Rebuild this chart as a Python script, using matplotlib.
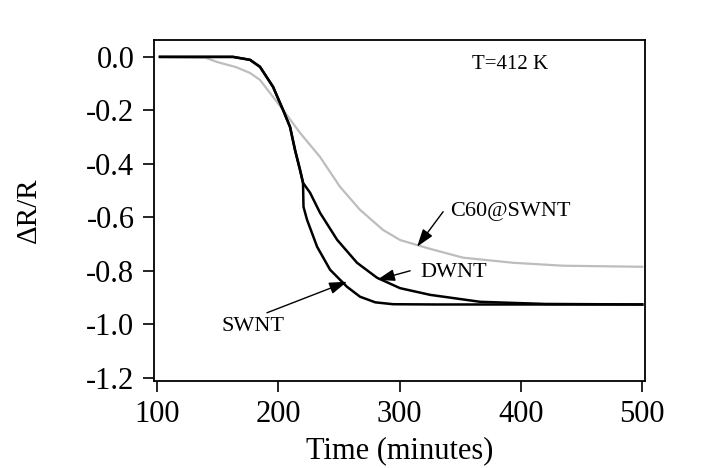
import numpy as np
import matplotlib
matplotlib.use("Agg")
import matplotlib.pyplot as plt

plt.rcParams['font.family'] = ['Liberation Serif', 'DejaVu Serif']

# SWNT curve (black, fastest drop)
swnt_t = [102.5, 140, 162.7, 176.7, 184.9, 195.7, 203.9, 209.7, 213.8, 217.9,
          220.4, 220.8, 223.7, 232.0, 242.7, 256.7, 267.4, 280.0, 294.6, 330, 400, 500]
swnt_r = [0.0, 0.0, 0.0, -0.011, -0.037, -0.112, -0.198, -0.262, -0.348, -0.422,
          -0.471, -0.561, -0.609, -0.710, -0.796, -0.860, -0.897, -0.918, -0.925, -0.926, -0.926, -0.926]

# DWNT curve (black)
dwnt_t = [102.5, 140, 162.7, 176.7, 184.9, 195.7, 203.9, 209.7, 213.8, 217.9,
          220.4, 226.2, 234.4, 248.5, 264.9, 281.4, 300.4, 325.2, 366.4, 420, 500]
dwnt_r = [0.0, 0.0, 0.0, -0.011, -0.037, -0.112, -0.198, -0.262, -0.348, -0.422,
          -0.471, -0.508, -0.583, -0.684, -0.770, -0.826, -0.865, -0.890, -0.916, -0.924, -0.926]

# C60@SWNT curve (grey)
c60_t = [102.5, 140, 149.5, 165, 176.7, 184.9, 203.9, 217.9, 234.4, 250.9,
         267.4, 286.3, 300.4, 325.2, 352.4, 393.6, 434.8, 500]
c60_r = [0.0, -0.003, -0.019, -0.038, -0.060, -0.086, -0.198, -0.284, -0.374, -0.486,
         -0.572, -0.647, -0.685, -0.718, -0.751, -0.770, -0.781, -0.785]

xticks = [100, 200, 300, 400, 500]
yticks = [0.0, -0.2, -0.4, -0.6, -0.8, -1.0, -1.2]

fig = plt.figure(figsize=(7.06, 4.68), dpi=100)
ax = fig.add_axes([0.218, 0.186, 0.696, 0.729])

ax.plot(c60_t, c60_r, color='#bdbdbd', lw=1.6)
ax.plot(dwnt_t, dwnt_r, color='black', lw=1.8)
ax.plot(swnt_t, swnt_r, color='black', lw=1.8)

ax.set_xlim(97.5, 502.5)
ax.set_ylim(-1.212, 0.064)
ax.set_xticks(xticks)
ax.set_yticks(yticks)
ax.set_xticklabels([str(v) for v in xticks])
ax.set_yticklabels(['%.1f' % v for v in yticks])
ax.tick_params(direction='out', length=8, width=1.2, labelsize=22,
               top=False, right=False)
ax.tick_params(axis='x', pad=6)
ax.tick_params(axis='y', pad=6)
for s in ax.spines.values():
    s.set_linewidth(1.3)

ax.set_xlabel('Time (minutes)', fontsize=22, labelpad=5)
ax.set_ylabel('ΔR/R', fontsize=21, labelpad=32)

ax.text(359.8, -0.03, 'T=412 K', fontsize=15, va='center', ha='left')

arrow = dict(arrowstyle='-|>,head_length=0.6,head_width=0.2', color='black',
             lw=1.0, mutation_scale=18, shrinkA=0, shrinkB=0)
ax.annotate('', xy=(314.4, -0.710), xytext=(335.9, -0.579), arrowprops=arrow)
ax.text(341.6, -0.579, 'C60@SWNT', fontsize=16, va='center', ha='left')
ax.annotate('', xy=(281.4, -0.834), xytext=(308.7, -0.80), arrowprops=arrow)
ax.text(316.9, -0.807, 'DWNT', fontsize=16, va='center', ha='left')
ax.annotate('', xy=(256.7, -0.841), xytext=(190.7, -0.957), arrowprops=arrow)
ax.text(153.6, -1.009, 'SWNT', fontsize=16, va='center', ha='left')

fig.savefig('out.png', dpi=100)
